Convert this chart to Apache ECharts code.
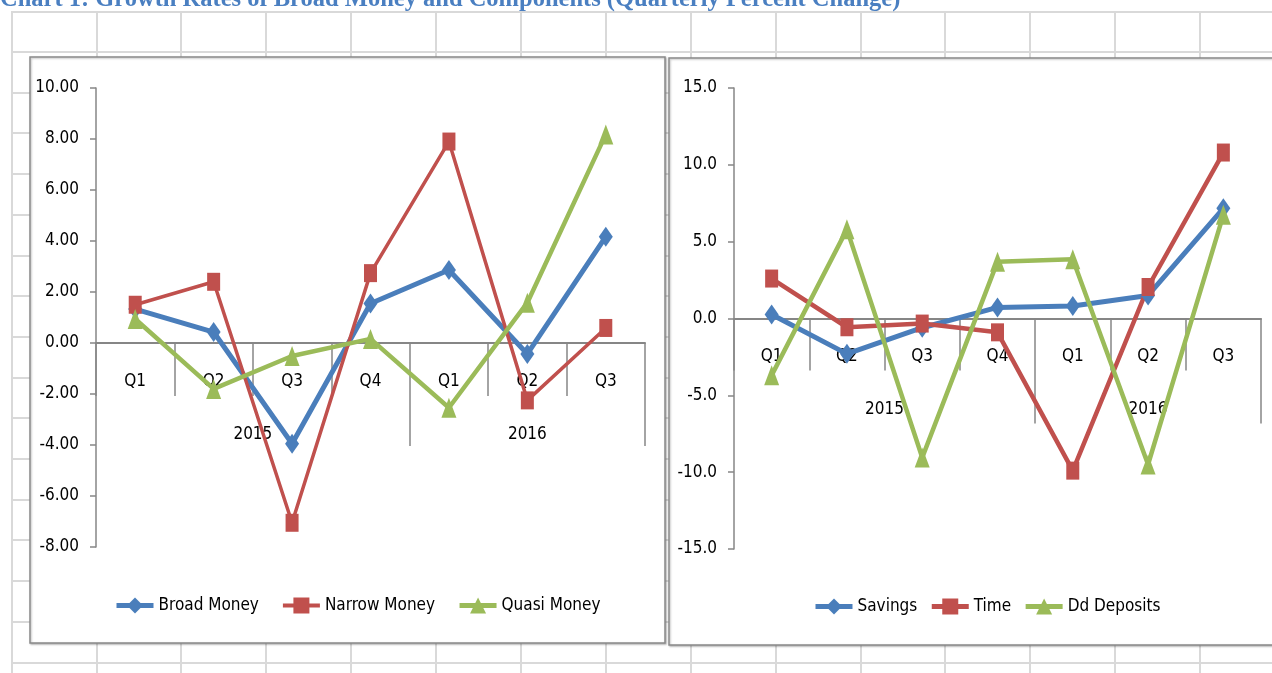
<!DOCTYPE html>
<html>
<head>
<meta charset="utf-8">
<script src="https://cdn.jsdelivr.net/npm/echarts@6/dist/echarts.min.js"></script>
<style>
html,body{margin:0;padding:0;background:#fff;}
#chart{width:1272px;height:673px;}
</style>
</head>
<body>
<div id="chart"></div>
<script>
// ---- Data ----
var quarters = ['Q1', 'Q2', 'Q3', 'Q4', 'Q1', 'Q2', 'Q3'];
var years = ['2015', '2016'];
var quartersPerYear = [4, 3];

var broadMoney  = [1.33, 0.43, -3.95, 1.55, 2.86, -0.43, 4.17];
var narrowMoney = [1.50, 2.40, -7.05, 2.74, 7.90, -2.25, 0.59];
var quasiMoney  = [0.94, -1.80, -0.51, 0.16, -2.54, 1.58, 8.18];

var savings    = [0.26, -2.30, -0.60, 0.72, 0.82, 1.50, 7.17];
var timeDep    = [2.60, -0.57, -0.33, -0.90, -9.90, 2.05, 10.80];
var ddDeposits = [-3.70, 5.80, -9.05, 3.70, 3.85, -9.50, 6.75];

var leftTicks  = {min: -8, max: 10, interval: 2};
var rightTicks = {min: -15, max: 15, interval: 5};

// year boundaries / centres derived from quartersPerYear
var yearBounds = [], yearCenters = [], acc = 0;
quartersPerYear.forEach(function (n) { yearCenters.push(acc + n / 2); acc += n; yearBounds.push(acc); });

var FONT = "'DejaVu Sans Condensed', 'Liberation Sans Narrow', 'Liberation Sans', sans-serif";
var FS = 17;
var AXIS_GRAY = '#868686';
var BLUE = '#4a7ebb', RED = '#c0504d', GREEN = '#9bbb59';

var chart = echarts.init(document.getElementById('chart'), null, {renderer: 'canvas'});

// ---- decorative spreadsheet background ----
var bg = [];
var vx = [12]; for (var x = 96.5; x < 1272; x += 84.9) vx.push(Math.round(x));
var hy = [12]; for (var y = 52; y < 673; y += 40.7) hy.push(Math.round(y));
vx.forEach(function (x) { bg.push({type: 'line', z: -10, shape: {x1: x, y1: 11, x2: x, y2: 673}, style: {stroke: '#d9d9d9', lineWidth: 2}}); });
hy.forEach(function (y) { bg.push({type: 'line', z: -10, shape: {x1: 11, y1: y, x2: 1272, y2: y}, style: {stroke: '#d9d9d9', lineWidth: 2}}); });
bg.push({type: 'rect', z: -5, shape: {x: 30, y: 57, width: 635, height: 586}, style: {fill: '#fff', stroke: '#8a8a8a', lineWidth: 1.5, shadowBlur: 2, shadowColor: 'rgba(0,0,0,0.25)', shadowOffsetX: 1, shadowOffsetY: 1}});
bg.push({type: 'rect', z: -5, shape: {x: 669, y: 58, width: 640, height: 587}, style: {fill: '#fff', stroke: '#8a8a8a', lineWidth: 1.5, shadowBlur: 2, shadowColor: 'rgba(0,0,0,0.25)', shadowOffsetX: 1, shadowOffsetY: 1}});
bg.push({type: 'text', z: 10, left: 0, top: -13, style: {text: 'Chart 1: Growth Rates of Broad Money and Components (Quarterly Percent Change)', font: "bold 24.5px 'Liberation Serif', 'Times New Roman', serif", fill: '#4a7fc1'}});

function yAxisCfg(gi, t, dec, show) {
  return {
    type: 'value', gridIndex: gi, min: t.min, max: t.max, interval: t.interval, show: show,
    axisLine: {show: true, lineStyle: {color: AXIS_GRAY, width: 1.5}},
    axisTick: {show: true, length: 6, lineStyle: {color: AXIS_GRAY, width: 1.5}},
    splitLine: {show: false},
    axisLabel: {margin: 17, color: '#000', fontFamily: FONT, fontSize: FS, formatter: function (v) { return v.toFixed(dec); }}
  };
}
function hiddenY(gi) {
  return {type: 'value', gridIndex: gi, min: 0, max: 1, show: false, splitLine: {show: false}};
}
function dataXAxis(gi) {
  return {type: 'category', gridIndex: gi, data: quarters, boundaryGap: true, show: false};
}
function qAxisCfg(gi, shortLen, margin) {
  return {
    type: 'category', gridIndex: gi, data: quarters, boundaryGap: true, position: 'bottom',
    axisLine: {onZero: false, lineStyle: {color: AXIS_GRAY, width: 2}},
    axisTick: {show: true, interval: 0, length: shortLen, lineStyle: {color: AXIS_GRAY, width: 1.5}},
    axisLabel: {interval: 0, margin: margin, color: '#000', fontFamily: FONT, fontSize: FS},
    splitLine: {show: false}
  };
}
function yearAxisCfg(gi, longLen, margin) {
  return {
    type: 'value', gridIndex: gi, min: 0, max: quarters.length, position: 'bottom',
    axisLine: {show: false, onZero: false},
    axisTick: {show: true, customValues: yearBounds, length: longLen, lineStyle: {color: AXIS_GRAY, width: 1.5}},
    axisLabel: {show: true, customValues: yearCenters, margin: margin, color: '#000', fontFamily: FONT, fontSize: FS,
      formatter: function (v) { var i = yearCenters.indexOf(v); return i >= 0 ? years[i] : ''; }},
    splitLine: {show: false}
  };
}
function lineSeries(name, data, color, width, symbol, size, xi, yi) {
  return {
    name: name, type: 'line', data: data, xAxisIndex: xi, yAxisIndex: yi,
    symbol: symbol, symbolSize: size, showAllSymbol: true,
    lineStyle: {color: color, width: width}, itemStyle: {color: color},
    emphasis: {disabled: true}, animation: false, z: 5
  };
}

// plot areas; the category-axis grids end at the zero line of each value axis
var gridL = {left: 96, top: 88, width: 549, height: 459};
var gridR = {left: 734, top: 88, width: 527, height: 461};
function zeroGrid(g, t) {
  return {left: g.left, top: g.top, width: g.width, height: g.height * t.max / (t.max - t.min)};
}
var gridLZ = zeroGrid(gridL, leftTicks), gridRZ = zeroGrid(gridR, rightTicks);

function legendItem(name, width) { return {name: name, lineStyle: {width: width}}; }

var option = {
  animation: false,
  backgroundColor: '#fff',
  graphic: bg,
  grid: [gridL, gridLZ, Object.assign({}, gridLZ), gridR, gridRZ, Object.assign({}, gridRZ)],
  xAxis: [dataXAxis(0), qAxisCfg(1, 53, 30), yearAxisCfg(2, 103, 83),
          dataXAxis(3), qAxisCfg(4, 52, 30), yearAxisCfg(5, 105, 83)],
  yAxis: [yAxisCfg(0, leftTicks, 2, true), hiddenY(1), hiddenY(2),
          yAxisCfg(3, rightTicks, 1, true), hiddenY(4), hiddenY(5)],
  legend: [
    {data: [legendItem('Broad Money', 5), legendItem('Narrow Money', 4), legendItem('Quasi Money', 5)],
     left: 114, top: 597, padding: 0, itemWidth: 37, itemHeight: 20, itemGap: 22,
     textStyle: {color: '#000', fontFamily: FONT, fontSize: FS}, selectedMode: false},
    {data: [legendItem('Savings', 5), legendItem('Time', 5), legendItem('Dd Deposits', 5)],
     left: 813, top: 598, padding: 0, itemWidth: 37, itemHeight: 20, itemGap: 12,
     textStyle: {color: '#000', fontFamily: FONT, fontSize: FS}, selectedMode: false}
  ],
  series: [
    lineSeries('Broad Money', broadMoney, BLUE, 5, 'diamond', [14, 20], 0, 0),
    lineSeries('Narrow Money', narrowMoney, RED, 3.5, 'rect', [13, 18], 0, 0),
    lineSeries('Quasi Money', quasiMoney, GREEN, 4.5, 'triangle', [15, 20], 0, 0),
    lineSeries('Savings', savings, BLUE, 5, 'diamond', [14, 20], 3, 3),
    lineSeries('Time', timeDep, RED, 4.5, 'rect', [13, 18], 3, 3),
    lineSeries('Dd Deposits', ddDeposits, GREEN, 4.5, 'triangle', [15, 20], 3, 3)
  ]
};
chart.setOption(option);
</script>
</body>
</html>
